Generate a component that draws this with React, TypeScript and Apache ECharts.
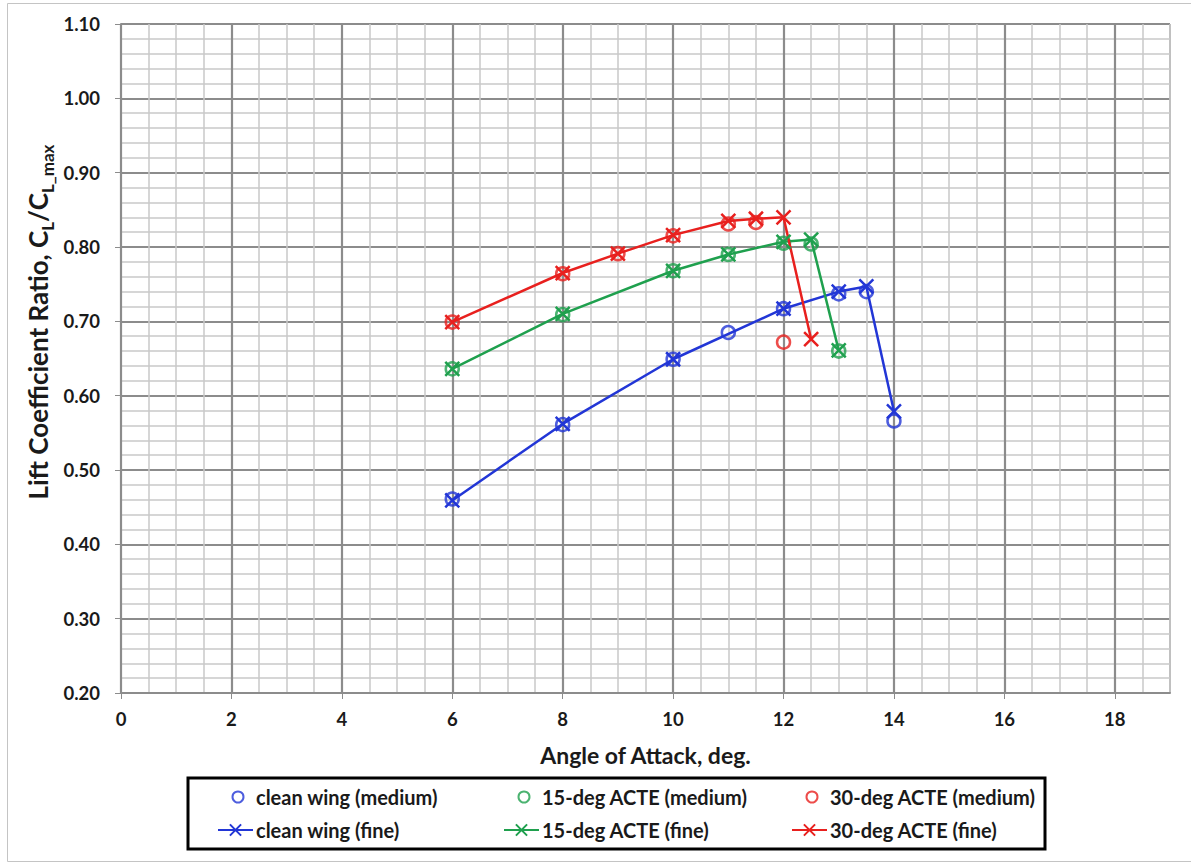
import React, { useEffect, useRef } from "react";
import * as echarts from "echarts";

const xTickLabels = [0, 2, 4, 6, 8, 10, 12, 14, 16, 18];

const cleanMediumX = [6, 8, 10, 11, 12, 13, 13.5, 14];
const cleanMediumY = [0.461, 0.561, 0.649, 0.685, 0.717, 0.737, 0.740, 0.566];
const cleanFineX = [6, 8, 10, 12, 13, 13.5, 14];
const cleanFineY = [0.459, 0.562, 0.649, 0.717, 0.740, 0.747, 0.579];

const acte15MediumX = [6, 8, 10, 11, 12, 12.5, 13];
const acte15MediumY = [0.636, 0.709, 0.768, 0.790, 0.805, 0.804, 0.660];
const acte15FineX = [6, 8, 10, 11, 12, 12.5, 13];
const acte15FineY = [0.636, 0.710, 0.768, 0.790, 0.807, 0.810, 0.661];

const acte30MediumX = [6, 8, 9, 10, 11, 11.5, 12];
const acte30MediumY = [0.699, 0.764, 0.791, 0.815, 0.831, 0.833, 0.672];
const acte30FineX = [6, 8, 9, 10, 11, 11.5, 12, 12.5];
const acte30FineY = [0.699, 0.765, 0.791, 0.816, 0.835, 0.838, 0.840, 0.676];

const seriesNames = [
  "clean wing (medium)",
  "15-deg ACTE (medium)",
  "30-deg ACTE (medium)",
  "clean wing (fine)",
  "15-deg ACTE (fine)",
  "30-deg ACTE (fine)",
];

const BLUE = "#2236d6";
const GREEN = "#1fa04e";
const RED = "#e8201e";
const FONT = "Lato";
const TXT = "#1a1a1a";
const CROSS = "path://M0,0L10,10M10,0L0,10";

const zip = (xs: number[], ys: number[]) => xs.map((x, i) => [x, ys[i]]);

export default function App() {
  const ref = useRef<HTMLDivElement>(null);
  useEffect(() => {
    const chart = echarts.init(ref.current!, null, { renderer: "svg" });

    const medium = (name: string, xs: number[], ys: number[], c: string) => ({
      name,
      type: "scatter",
      xAxisIndex: 1,
      data: zip(xs, ys),
      symbol: "circle",
      symbolSize: 13,
      itemStyle: { color: "rgba(255,255,255,0)", borderColor: c, borderWidth: 2.5 },
      z: 3,
    });
    const fine = (name: string, xs: number[], ys: number[], c: string) => ({
      name,
      type: "line",
      xAxisIndex: 1,
      data: zip(xs, ys),
      symbol: CROSS,
      symbolSize: 14,
      showAllSymbol: true,
      lineStyle: { color: c, width: 2.5 },
      itemStyle: { color: c, borderColor: c, borderWidth: 2.5 },
      z: 4,
    });

    // [left, top, itemWidth, itemHeight, textPadLeft]
    const legendCfg = [
      [231.5, 787, 11, 11, 7.5],
      [517.5, 787, 11, 11, 7.5],
      [805.5, 787, 11, 11, 7.5],
      [217, 820, 35, 14, -2],
      [503, 820, 35, 14, -2],
      [791, 820, 35, 14, -2],
    ];
    const legends = seriesNames.map((n, i) => ({
      data: [n],
      left: legendCfg[i][0],
      top: legendCfg[i][1],
      padding: 0,
      itemWidth: legendCfg[i][2],
      itemHeight: legendCfg[i][3],
      itemGap: 0,
      selectedMode: false,
      textStyle: {
        fontFamily: FONT,
        fontWeight: "bold",
        fontSize: 20,
        color: TXT,
        padding: [0, 0, 0, legendCfg[i][4]],
      },
    }));

    chart.setOption({
      animation: false,
      backgroundColor: "#ffffff",
      grid: {
        left: 121,
        top: 24,
        right: 21,
        bottom: 172,
        show: true,
        borderColor: "#555555",
        borderWidth: 1,
        containLabel: false,
        outerBoundsMode: "none",
      },
      legend: legends,
      xAxis: [
        {
          type: "value",
          position: "bottom",
          min: 0,
          max: 19,
          interval: 0.5,
          axisLine: { show: false },
          axisTick: { show: false },
          axisLabel: { show: false },
          splitLine: { show: true, lineStyle: { color: "#c8c8c8", width: 1.5 } },
        },
        {
          type: "value",
          position: "bottom",
          min: 0,
          max: 19,
          interval: 2,
          name: "Angle of Attack, deg.",
          nameLocation: "middle",
          nameGap: 50,
          nameTextStyle: { fontFamily: FONT, fontWeight: "bold", fontSize: 23, color: TXT },
          axisLine: { show: true, onZero: false, lineStyle: { color: "#8c8c8c", width: 2 } },
          axisTick: {
            show: true,
            inside: false,
            length: 6,
            customValues: xTickLabels,
            lineStyle: { color: "#8c8c8c", width: 1 },
          },
          axisLabel: {
            customValues: xTickLabels,
            margin: 16,
            fontFamily: FONT,
            fontWeight: "bold",
            fontSize: 18.5,
            color: TXT,
          },
          splitLine: { show: true, lineStyle: { color: "#8c8c8c", width: 2.2 } },
        },
      ],
      yAxis: {
        type: "value",
        min: 0.2,
        max: 1.1,
        interval: 0.1,
        axisLine: { show: true, lineStyle: { color: "#8c8c8c", width: 2 } },
        axisTick: { show: true, inside: false, length: 6, lineStyle: { color: "#8c8c8c", width: 1 } },
        axisLabel: {
          margin: 21,
          fontFamily: FONT,
          fontWeight: "bold",
          fontSize: 18.5,
          color: TXT,
          formatter: (v: number) => v.toFixed(2),
        },
        splitLine: { show: true, lineStyle: { color: "#8c8c8c", width: 2.2 } },
        minorTick: { show: false, splitNumber: 5 },
        minorSplitLine: { show: true, lineStyle: { color: "#c8c8c8", width: 1.5 } },
      },
      graphic: [
        {
          type: "rect",
          z: -10,
          shape: { x: 7.5, y: 3.5, width: 1190, height: 858 },
          style: { fill: "none", stroke: "#c4c4c4", lineWidth: 1 },
          silent: true,
        },
        {
          type: "rect",
          shape: { x: 188, y: 778, width: 857, height: 71 },
          style: { fill: "none", stroke: "#000000", lineWidth: 3 },
          silent: true,
        },
        {
          type: "text",
          x: 38,
          y: 322,
          rotation: Math.PI / 2,
          style: {
            text: "{a|Lift Coefficient Ratio, C}{s|L}{a|/C}{s|L_max}",
            align: "center",
            verticalAlign: "middle",
            rich: {
              a: { fontFamily: FONT, fontWeight: "bold", fontSize: 26, lineHeight: 36, verticalAlign: "middle", fill: TXT },
              s: { fontFamily: FONT, fontWeight: "bold", fontSize: 17, lineHeight: 17, verticalAlign: "bottom", fill: TXT },
            },
          },
        },
      ],
      series: [
        medium(seriesNames[0], cleanMediumX, cleanMediumY, BLUE),
        medium(seriesNames[1], acte15MediumX, acte15MediumY, GREEN),
        medium(seriesNames[2], acte30MediumX, acte30MediumY, RED),
        fine(seriesNames[3], cleanFineX, cleanFineY, BLUE),
        fine(seriesNames[4], acte15FineX, acte15FineY, GREEN),
        fine(seriesNames[5], acte30FineX, acte30FineY, RED),
      ],
    });
    return () => chart.dispose();
  }, []);
  return (
    <div
      ref={ref}
      style={{ position: "fixed", left: 0, top: 0, width: 1191, height: 865, background: "#fff" }}
    />
  );
}
